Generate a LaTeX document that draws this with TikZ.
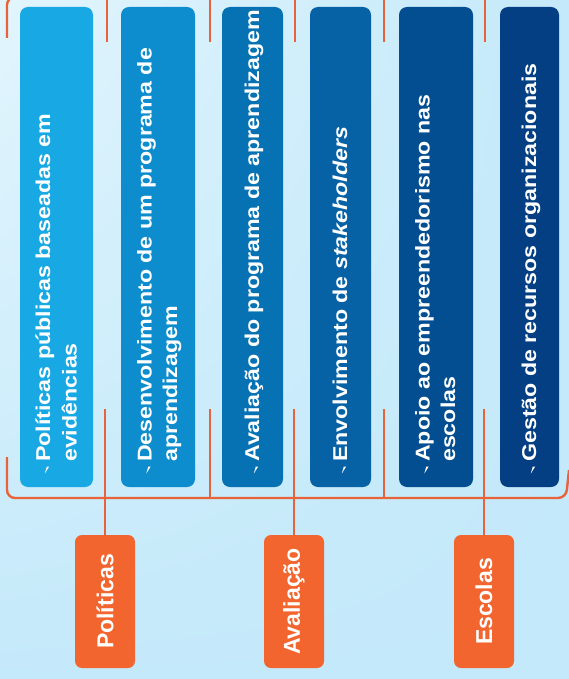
\documentclass[tikz,border=0pt]{standalone}
\usepackage{fontspec}
\usetikzlibrary{shadings}
\setmainfont{Liberation Sans}
\newfontfamily\barfont[FakeStretch=1.16]{Liberation Sans}
\definecolor{bg}{HTML}{C4E9FA}
\definecolor{bglight}{HTML}{E2F5FD}
\definecolor{barA}{HTML}{18A8E4}
\definecolor{barB}{HTML}{0D8DCD}
\definecolor{barC}{HTML}{0772B3}
\definecolor{barD}{HTML}{0661A5}
\definecolor{barE}{HTML}{034E91}
\definecolor{barF}{HTML}{033F82}
\definecolor{orbox}{HTML}{F2652F}
\definecolor{orline}{HTML}{E8633A}
\begin{document}
\begin{tikzpicture}[x=1pt,y=-1pt,
  bar/.style={rounded corners=8pt, inner sep=0pt, minimum height=480pt, draw=none},
  bartext/.style={rotate=90, anchor=base west, inner sep=0pt, text=white,
    font=\barfont\bfseries\fontsize{20}{24}\selectfont},
  catbox/.style={rotate=90, rounded corners=7pt, fill=orbox, draw=none,
    minimum width=133pt, minimum height=60pt, inner sep=0pt, text=white,
    font=\bfseries\fontsize{23}{26}\selectfont},
  link/.style={draw=orline, line width=2.4pt},
  bulletmark/.style={fill=white, draw=none}
]
\useasboundingbox (0,0) rectangle (569,679);
\fill[bg] (0,0) rectangle (569,679);
\shade[upper left=bglight, upper right=bg, lower left=bg, lower right=bg] (0,0) rectangle (569,679);

% top bracket
\coordinate (tl) at (7,38);
\coordinate (tr) at (580,-3);
\draw[link, rounded corners=8pt] (tl) -- (7,-3) -- (tr);
\foreach \x in {107,210,295,384,485}{
  \coordinate (tt\x) at (\x,42);
  \draw[link] (\x,-5) -- (tt\x);
}

% bars
\node[bar, fill=barA, minimum width=73pt] (bar1) at (56.5,247) {};
\node[bar, fill=barB, minimum width=74pt] (bar2) at (158,247) {};
\node[bar, fill=barC, minimum width=61pt] (bar3) at (252.5,247) {};
\node[bar, fill=barD, minimum width=61pt] (bar4) at (340.5,247) {};
\node[bar, fill=barE, minimum width=74pt] (bar5) at (436,247) {};
\node[bar, fill=barF, minimum width=59pt] (bar6) at (529.5,247) {};

% bar texts
\node[bartext] (t1a) at (50,462) {Políticas públicas baseadas em};
\node[bartext] (t1b) at (76.5,462) {evidências};
\node[bartext] (t2a) at (151.5,462) {Desenvolvimento de um programa de};
\node[bartext] (t2b) at (177,462) {aprendizagem};
\node[bartext] (t3a) at (259,462) {Avaliação do programa de aprendizagem};
\node[bartext] (t4a) at (347,462) {Envolvimento de \textit{stakeholders}};
\node[bartext] (t5a) at (429.5,462) {Apoio ao empreendedorismo nas};
\node[bartext] (t5b) at (455,462) {escolas};
\node[bartext] (t6a) at (536,462) {Gestão de recursos organizacionais};

% bullet marks
\foreach \bx in {50,151.5,259,347,429.5,536}{
  \fill[bulletmark] (\bx-3.2,466.5) -- (\bx-0.8,466.5) -- (\bx-5.2,473.5) -- cycle;
}

% category boxes
\node[catbox] (pol) at (105,601.5) {Políticas};
\node[catbox] (ava) at (294,601.5) {Avaliação};
\node[catbox] (esc) at (484,601.5) {Escolas};

% bottom bracket
\coordinate (bl) at (7,457);
\coordinate (br) at (569,470);
\draw[link, rounded corners=8pt] (bl) -- (7,498) -- (566,498) -- (br);
\coordinate (k1) at (105,409);
\coordinate (k2) at (210,409);
\coordinate (k3) at (294,409);
\coordinate (k4) at (384,409);
\coordinate (k5) at (484,409);
\coordinate (m2) at (210,498);
\coordinate (m4) at (384,498);
\draw[link] (k1) -- (pol.east);
\draw[link] (k2) -- (m2);
\draw[link] (k3) -- (ava.east);
\draw[link] (k4) -- (m4);
\draw[link] (k5) -- (esc.east);
\end{tikzpicture}
\end{document}
